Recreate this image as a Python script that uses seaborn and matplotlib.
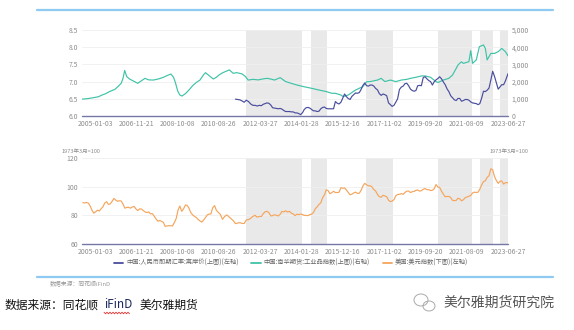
import numpy as np
import pandas as pd
import matplotlib
matplotlib.use("Agg")
import matplotlib.pyplot as plt
import matplotlib.dates as mdates
from matplotlib.ticker import FixedLocator, FuncFormatter
from matplotlib.lines import Line2D
from matplotlib.patches import Ellipse
import seaborn as sns

# ---------------- data ----------------
date_labels = ["2005-01-03", "2006-11-21", "2008-10-08", "2010-08-26", "2012-03-27",
               "2014-01-28", "2015-12-16", "2017-11-02", "2019-09-20", "2021-08-09",
               "2023-06-27"]
axis_start = "2004-06-01"

# USD/CNH, monthly (mid-month), Apr 2011 - Jun 2023
cnh_values = [
    6.49, 6.48, 6.47, 6.44, 6.40, 6.46, 6.42, 6.35, 6.31,
    6.31, 6.29, 6.31, 6.30, 6.34, 6.36, 6.38, 6.37, 6.32, 6.24, 6.23, 6.22,
    6.21, 6.22, 6.20, 6.16, 6.13, 6.13, 6.13, 6.12, 6.12, 6.09, 6.09, 6.07,
    6.04, 6.10, 6.19, 6.24, 6.25, 6.23, 6.19, 6.15, 6.15, 6.13, 6.14, 6.21,
    6.25, 6.26, 6.22, 6.21, 6.21, 6.21, 6.21, 6.42, 6.37, 6.35, 6.40, 6.52,
    6.64, 6.56, 6.51, 6.48, 6.57, 6.62, 6.67, 6.66, 6.68, 6.77, 6.89, 6.96,
    6.88, 6.87, 6.90, 6.90, 6.87, 6.80, 6.76, 6.65, 6.60, 6.64, 6.62, 6.59,
    6.38, 6.33, 6.28, 6.31, 6.40, 6.50, 6.77, 6.84, 6.87, 6.94, 6.95, 6.88,
    6.78, 6.74, 6.72, 6.74, 6.88, 6.89, 6.88, 7.12, 7.14, 7.08, 7.03, 7.00,
    6.90, 7.00, 7.05, 7.09, 7.14, 7.08, 6.99, 6.91, 6.79, 6.71, 6.59, 6.53,
    6.47, 6.45, 6.51, 6.51, 6.43, 6.45, 6.48, 6.48, 6.46, 6.41, 6.38, 6.37,
    6.36, 6.33, 6.36, 6.52, 6.72, 6.71, 6.75, 6.81, 7.05, 7.30, 7.15, 6.97,
    6.78, 6.85, 6.91, 6.91, 7.02, 7.17,
    7.23,
]
cnh_dates = list(pd.date_range("2011-04-01", "2023-06-01", freq="MS") + pd.Timedelta(days=14)) \
    + [pd.Timestamp("2023-06-27")]

# Nanhua industrial commodity index
nanhua_dates = [
    "2004-06-01", "2004-09-01", "2004-12-01", "2005-03-01", "2005-05-01", "2005-07-01",
    "2005-09-01", "2005-12-01", "2006-02-01", "2006-03-15", "2006-04-15", "2006-05-12",
    "2006-06-15", "2006-08-01", "2006-10-01", "2006-12-15", "2007-02-15", "2007-04-15",
    "2007-06-15", "2007-09-01", "2007-12-01", "2008-02-15", "2008-04-15", "2008-06-20",
    "2008-08-01", "2008-09-01", "2008-10-10", "2008-11-15", "2008-12-20", "2009-02-15",
    "2009-04-15", "2009-06-15", "2009-08-15", "2009-10-15", "2009-12-15", "2010-01-15",
    "2010-03-15", "2010-05-25", "2010-07-15", "2010-08-26", "2010-10-20", "2011-01-20",
    "2011-03-15", "2011-05-01", "2011-07-15", "2011-09-01", "2011-10-10", "2011-12-15",
    "2012-03-01", "2012-05-01", "2012-07-15", "2012-09-15", "2012-11-15", "2013-02-15",
    "2013-05-15", "2013-08-15", "2013-11-15", "2014-03-15", "2014-07-15", "2014-11-15",
    "2015-03-15", "2015-06-15", "2015-08-15", "2015-11-15", "2015-12-20", "2016-03-15",
    "2016-07-15", "2016-11-15", "2017-01-15", "2017-03-15", "2017-07-15", "2017-09-15",
    "2017-11-15", "2018-02-15", "2018-05-15", "2018-08-15", "2018-11-15", "2019-01-15",
    "2019-04-15", "2019-07-15", "2019-09-15", "2019-12-15", "2020-03-15", "2020-04-20",
    "2020-07-15", "2020-10-15", "2020-12-15", "2021-02-15", "2021-03-15", "2021-05-12",
    "2021-06-15", "2021-09-15", "2021-10-15", "2021-11-15", "2022-01-15", "2022-03-08",
    "2022-05-15", "2022-06-15", "2022-07-15", "2022-09-15", "2022-11-15", "2023-01-15",
    "2023-03-15", "2023-05-15", "2023-06-27",
]
nanhua_values = [
    980, 1010, 1060, 1120, 1220, 1300,
    1420, 1550, 1750, 1900, 2200, 2650,
    2290, 2150, 2040, 1900, 2050, 2190,
    2100, 2090, 2160, 2250, 2350, 2440,
    2250, 1950, 1450, 1220, 1160, 1300,
    1510, 1760, 1950, 2090, 2400, 2520,
    2350, 2150, 2250, 2380, 2520, 2680,
    2480, 2520, 2450, 2300, 2090, 2130,
    2100, 2150, 2190, 2150, 2090, 2230,
    2000, 1900, 1800, 1700, 1610, 1510,
    1420, 1320, 1320, 1220, 1130, 1220,
    1510, 1710, 1990, 2000, 2090, 2190,
    2000, 2090, 2000, 2090, 2130, 2190,
    2250, 2330, 2330, 2250, 2000, 1950,
    2090, 2190, 2380, 2770, 2960, 3150,
    3060, 3160, 3800, 3060, 3260, 4030,
    4130, 3930, 3260, 3640, 3640, 3740,
    3930, 3740, 3500,
]

# US dollar index, monthly (mid-month), Jun 2004 - Jun 2023
dxy_values = [
    88.9, 88.6, 89.0, 88.5, 86.5, 83.5, 81.5,
    82.5, 83.6, 83.0, 84.5, 86.0, 88.6, 89.5, 87.6, 88.0, 89.8, 91.8, 90.6,
    89.8, 90.2, 90.0, 87.8, 85.0, 85.5, 85.6, 85.0, 85.8, 86.2, 84.5, 83.3,
    84.5, 84.4, 83.4, 82.4, 81.9, 82.4, 81.1, 81.2, 79.4, 77.5, 75.9, 76.4,
    75.8, 75.1, 72.3, 72.6, 72.8, 72.7, 72.6, 74.9, 77.8, 83.6, 86.5, 82.8,
    84.5, 87.2, 87.0, 85.0, 82.0, 80.3, 79.3, 78.5, 77.1, 76.1, 75.3, 76.7,
    78.5, 80.3, 80.9, 81.0, 85.3, 86.8, 83.5, 82.1, 80.7, 77.2, 79.2, 80.3,
    78.9, 77.4, 76.3, 74.2, 74.6, 74.9, 74.4, 74.3, 76.8, 77.0, 77.9, 79.3,
    80.0, 78.7, 79.3, 79.2, 81.1, 82.5, 82.8, 81.9, 79.6, 79.8, 80.4, 80.0,
    79.6, 80.7, 82.7, 82.4, 83.2, 82.3, 82.8, 81.6, 80.9, 79.8, 80.8, 80.4,
    80.9, 80.5, 80.0, 79.9, 79.8, 80.5, 80.8, 82.0, 84.6, 85.9, 87.6, 88.7,
    92.4, 94.4, 97.8, 97.3, 95.1, 95.8, 96.8, 95.9, 95.9, 96.1, 99.3, 98.9,
    99.1, 97.6, 96.0, 94.3, 94.8, 95.6, 96.2, 95.3, 95.4, 97.4, 100.5, 102.3,
    101.3, 100.6, 100.6, 99.8, 98.0, 96.9, 94.6, 93.0, 92.6, 94.0, 93.5, 93.0,
    90.5, 89.6, 89.9, 90.9, 93.6, 94.6, 94.6, 95.2, 94.6, 96.0, 96.9, 96.9,
    95.9, 96.5, 96.7, 97.4, 97.7, 96.9, 97.2, 98.2, 98.7, 97.9, 97.9, 97.3,
    97.5, 98.6, 101.5, 99.8, 99.5, 96.8, 94.8, 92.9, 93.2, 93.2, 92.4, 90.4,
    90.3, 90.4, 91.9, 91.5, 90.1, 90.9, 92.3, 92.8, 93.3, 93.9, 95.6, 96.2,
    95.9, 96.2, 98.2, 101.2, 103.5, 104.1, 106.5, 107.6, 112.5, 111.8, 107.0, 104.3,
    102.3, 103.8, 104.0, 101.8, 102.8, 102.8,
    102.7,
]
dxy_dates = list(pd.date_range("2004-06-01", "2023-06-01", freq="MS") + pd.Timedelta(days=14)) \
    + [pd.Timestamp("2023-06-27")]

# shaded periods
band_starts = ["2011-09-10", "2014-07-05", "2016-12-31", "2020-04-17", "2022-03-18", "2023-02-13"]
band_ends = ["2014-02-01", "2015-03-28", "2018-04-04", "2021-10-31", "2022-10-25", "2023-06-27"]

legend_labels = ["中国:人民币即期汇率:离岸价(上图)(左轴)",
                 "中国:南华期货:工业品指数(上图)(右轴)",
                 "美国:美元指数(下图)(左轴)"]

# ---------------- style ----------------
sns.set_theme(style="white")
plt.rcParams["font.family"] = ["Noto Sans CJK SC", "DejaVu Sans"]
plt.rcParams["axes.unicode_minus"] = False

C_CNH = "#4a4d9e"
C_NANHUA = "#3fc3a7"
C_DXY = "#f5a55c"
C_BAND = "#e9e9e9"
C_GRID = "#efefef"
C_AXIS = "#7477a8"
C_TICK = "#8c8c8c"
TICK_FS = 4.9

W, H = 574, 330
fig = plt.figure(figsize=(W / 100, H / 100), dpi=100)


def px_box(x0, y0, x1, y1):
    return [x0 / W, 1 - y1 / H, (x1 - x0) / W, (y1 - y0) / H]


ax_top = fig.add_axes(px_box(82, 30, 508, 116))
ax_top_r = ax_top.twinx()
ax_bot = fig.add_axes(px_box(82, 158, 508, 244))

# category-like date axis: evenly spaced label dates
anchor_num = mdates.date2num(pd.to_datetime([axis_start] + date_labels))
first_gap = (anchor_num[1] - anchor_num[0]) / (anchor_num[2] - anchor_num[1])
anchor_pos = np.concatenate([[-first_gap], np.arange(len(date_labels), dtype=float)])


def fwd(v):
    v = np.asarray(v, dtype=float)
    out = np.interp(v, anchor_num, anchor_pos)
    s0 = (anchor_pos[1] - anchor_pos[0]) / (anchor_num[1] - anchor_num[0])
    s1 = (anchor_pos[-1] - anchor_pos[-2]) / (anchor_num[-1] - anchor_num[-2])
    out = np.where(v < anchor_num[0], anchor_pos[0] + (v - anchor_num[0]) * s0, out)
    out = np.where(v > anchor_num[-1], anchor_pos[-1] + (v - anchor_num[-1]) * s1, out)
    return out


def inv(p):
    p = np.asarray(p, dtype=float)
    out = np.interp(p, anchor_pos, anchor_num)
    s0 = (anchor_num[1] - anchor_num[0]) / (anchor_pos[1] - anchor_pos[0])
    s1 = (anchor_num[-1] - anchor_num[-2]) / (anchor_pos[-1] - anchor_pos[-2])
    out = np.where(p < anchor_pos[0], anchor_num[0] + (p - anchor_pos[0]) * s0, out)
    out = np.where(p > anchor_pos[-1], anchor_num[-1] + (p - anchor_pos[-1]) * s1, out)
    return out


cnh = pd.DataFrame({"date": pd.to_datetime(cnh_dates), "value": cnh_values})
nanhua = pd.DataFrame({"date": pd.to_datetime(nanhua_dates), "value": nanhua_values})
dxy = pd.DataFrame({"date": pd.to_datetime(dxy_dates), "value": dxy_values})

sns.lineplot(data=nanhua, x="date", y="value", ax=ax_top_r, color=C_NANHUA, linewidth=0.85)
sns.lineplot(data=cnh, x="date", y="value", ax=ax_top, color=C_CNH, linewidth=0.85)
sns.lineplot(data=dxy, x="date", y="value", ax=ax_bot, color=C_DXY, linewidth=0.85)

ax_top.set_zorder(ax_top_r.get_zorder() + 1)
ax_top.patch.set_visible(False)
ax_top_r.patch.set_visible(True)
ax_top_r.patch.set_facecolor("white")

x_lo, x_hi = pd.Timestamp(axis_start), pd.Timestamp(date_labels[-1])
for ax in (ax_top, ax_bot):
    ax.set_xscale("function", functions=(fwd, inv))
    ax.set_xlim(x_lo, x_hi)
    ax.xaxis.set_major_locator(FixedLocator(mdates.date2num(pd.to_datetime(date_labels))))
    ax.xaxis.set_minor_locator(FixedLocator([]))
    ax.xaxis.set_major_formatter(mdates.DateFormatter("%Y-%m-%d"))
    for s0, s1 in zip(band_starts, band_ends):
        (ax_top_r if ax is ax_top else ax).axvspan(pd.Timestamp(s0), pd.Timestamp(s1),
                                                     color=C_BAND, lw=0, zorder=0)

ax_top.set_ylim(6.0, 8.5)
ax_top.set_yticks([6.0, 6.5, 7.0, 7.5, 8.0, 8.5])
ax_top.yaxis.set_major_formatter(FuncFormatter(lambda v, p: f"{v:.1f}"))
ax_top_r.set_ylim(0, 5000)
ax_top_r.set_yticks([0, 1000, 2000, 3000, 4000, 5000])
ax_top_r.yaxis.set_major_formatter(FuncFormatter(lambda v, p: f"{int(v):,}"))

ax_bot.set_ylim(60, 120)
ax_bot.set_yticks([60, 80, 100, 120])

for ax in (ax_top, ax_top_r, ax_bot):
    ax.set_xlabel("")
    ax.set_ylabel("")
    for sp in ax.spines.values():
        sp.set_visible(False)
    ax.tick_params(axis="both", length=0, labelsize=TICK_FS, labelcolor=C_TICK, pad=2.6)
    ax.grid(False)

for ax in (ax_top_r, ax_bot):
    ax.axhline(ax.get_ylim()[0] if ax is ax_bot else 0, color=C_AXIS, lw=1.0, zorder=5,
               clip_on=False)
for ax, grid_vals in ((ax_top_r, [1000, 2000, 3000, 4000, 5000]), (ax_bot, [80, 100, 120])):
    for g in grid_vals:
        ax.axhline(g, color=C_GRID, lw=0.6, zorder=0.5)

ax_top.tick_params(axis="x", pad=2.8)
ax_bot.tick_params(axis="x", pad=2.8)

# unit notes
fig.text(62 / W, 1 - 151 / H, "1973年3月=100", fontsize=4.0, color=C_TICK, ha="left", va="center")
fig.text(528 / W, 1 - 151 / H, "1973年3月=100", fontsize=4.0, color=C_TICK, ha="right", va="center")

# legend
handles = [Line2D([], [], color=c, lw=1.3) for c in (C_CNH, C_NANHUA, C_DXY)]
fig.legend(handles, legend_labels, loc="center", bbox_to_anchor=(291 / W, 1 - 263 / H),
           ncol=3, frameon=False, fontsize=4.5, handlelength=1.5, handletextpad=0.5,
           columnspacing=2.0, labelcolor="#666666")

# rules
fig.add_artist(Line2D([37 / W, 553 / W], [1 - 10 / H] * 2, color="#8ecaf2", lw=1.6))
fig.add_artist(Line2D([37 / W, 553 / W], [1 - 277 / H] * 2, color="#8ecaf2", lw=1.6))

# source notes
fig.text(50 / W, 1 - 283 / H, "数据来源：同花顺iFinD", fontsize=4.2, color="#999999",
         ha="left", va="center")
fig.text(5 / W, 1 - 305 / H, "数据来源：同花顺", fontsize=8.5, color="#111111",
         ha="left", va="center")
fig.text(104 / W, 1 - 305 / H, "iFinD", fontsize=8.5, color="#1b2a5c",
         ha="left", va="center")
fig.text(140 / W, 1 - 305 / H, "美尔雅期货", fontsize=8.5, color="#111111",
         ha="left", va="center")
zx = np.arange(104, 130, 1.5)
zy = 313 + np.where(np.arange(len(zx)) % 2 == 0, -0.8, 0.8)
fig.add_artist(Line2D(zx / W, 1 - zy / H, color="#e03030", lw=0.6))

fig.text(443 / W, 1 - 303 / H, "美尔雅期货研究院", fontsize=10, color="#555555",
         ha="left", va="center")
fig.add_artist(Ellipse((421 / W, 1 - 300 / H), 14 / W, 12 / H, fill=False,
                       edgecolor="#aaaaaa", lw=0.7, transform=fig.transFigure))
fig.add_artist(Ellipse((429 / W, 1 - 306 / H), 12 / W, 10 / H, fill=False,
                       edgecolor="#aaaaaa", lw=0.7, transform=fig.transFigure))

fig.savefig("out.png", dpi=100)
